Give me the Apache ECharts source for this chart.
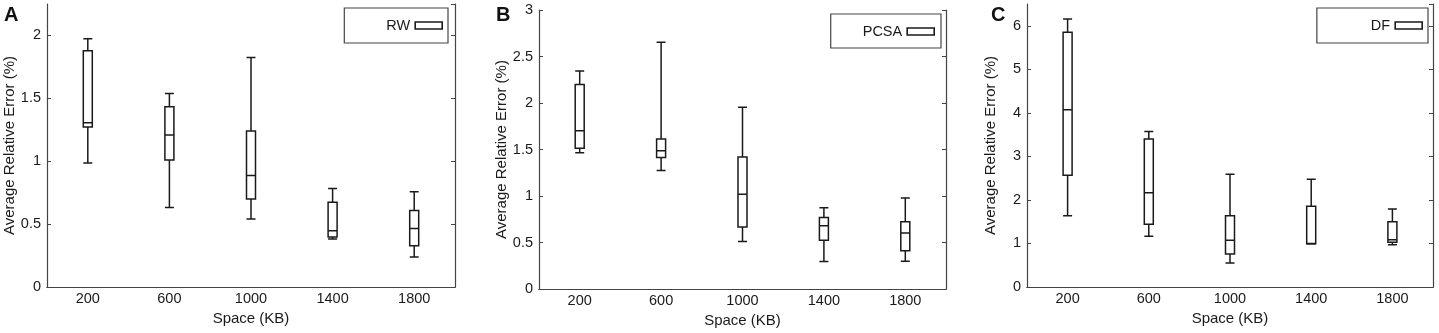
<!DOCTYPE html>
<html>
<head>
<meta charset="utf-8">
<script src="https://cdn.jsdelivr.net/npm/echarts@6/dist/echarts.min.js"></script>
<style>
  html, body { margin: 0; padding: 0; background: #fff; }
  #chart { width: 1439px; height: 333px; }
</style>
</head>
<body>
<div id="chart"></div>
<script>
  // x categories: space (KB)
  const categories = ['200', '600', '1000', '1400', '1800'];

  // box data: [min, Q1, median, Q3, max]
  const rwBoxes = [
    [0.985, 1.272, 1.306, 1.878, 1.973],
    [0.633, 1.009, 1.208, 1.433, 1.539],
    [0.540, 0.699, 0.887, 1.240, 1.825],
    [0.381, 0.397, 0.448, 0.673, 0.784],
    [0.238, 0.328, 0.466, 0.609, 0.758]
  ];
  const pcsaBoxes = [
    [1.465, 1.514, 1.701, 2.199, 2.344],
    [1.274, 1.415, 1.486, 1.613, 2.654],
    [0.512, 0.667, 1.020, 1.419, 1.955],
    [0.296, 0.526, 0.681, 0.770, 0.875],
    [0.300, 0.413, 0.604, 0.724, 0.978]
  ];
  const dfBoxes = [
    [1.638, 2.564, 4.071, 5.854, 6.153],
    [1.163, 1.439, 2.166, 3.398, 3.574],
    [0.551, 0.758, 1.071, 1.638, 2.587],
    [0.990, 0.995, 1.000, 1.852, 2.472],
    [0.972, 1.025, 1.087, 1.500, 1.791]
  ];

  const seriesNames = ['RW', 'PCSA', 'DF'];
  const panelLetters = ['A', 'B', 'C'];
  const yMax = [2.25, 3, 6.5];
  const yStep = [0.5, 0.5, 1];

  const ink = '#1a1a1a';
  const frame = '#444';
  const font = 'Liberation Sans, Arial, sans-serif';

  const grids = [
    {left: 47, top: 4, width: 408, height: 283},
    {left: 539, top: 10, width: 407, height: 283},
    {left: 1027, top: 4, width: 406, height: 283}
  ];

  const legendPos = [
    {right: 991, top: 8, padding: [10, 5, 10, 42]},
    {right: 498, top: 14, padding: [10, 6, 9, 32]},
    {right: 11, top: 8, padding: [10, 5, 10, 54]}
  ];
  const letterPos = [{left: 4, top: 5}, {left: 496, top: 5}, {left: 991, top: 5}];

  const boxes = [rwBoxes, pcsaBoxes, dfBoxes];

  const xAxes = [], yAxes = [], series = [], legends = [], titles = [];

  grids.forEach((g, i) => {
    // bottom x axis
    xAxes.push({
      type: 'category', gridIndex: i, data: categories, position: 'bottom',
      name: 'Space (KB)', nameLocation: 'middle', nameGap: 21,
      nameTextStyle: {color: ink, fontSize: 15, fontFamily: font},
      axisLine: {lineStyle: {color: frame, width: 1.2}},
      axisTick: {inside: true, alignWithLabel: true, length: 4, lineStyle: {color: frame}},
      axisLabel: {color: ink, fontSize: 14.5, fontFamily: font, margin: 4}
    });
    // left y axis
    yAxes.push({
      type: 'value', gridIndex: i, min: 0, max: yMax[i], interval: yStep[i],
      name: 'Average Relative Error (%)', nameLocation: 'middle', nameGap: 29,
      nameTextStyle: {color: ink, fontSize: 15, fontFamily: font},
      axisLine: {show: true, lineStyle: {color: frame, width: 1.2}},
      axisTick: {show: true, inside: true, length: 4, lineStyle: {color: frame}},
      axisLabel: {color: ink, fontSize: 14.5, fontFamily: font, margin: 6, showMaxLabel: yMax[i] % yStep[i] === 0},
      splitLine: {show: false}
    });
    series.push({
      name: seriesNames[i], type: 'boxplot', xAxisIndex: i, yAxisIndex: i,
      data: boxes[i], boxWidth: [9, 9],
      itemStyle: {color: '#fff', borderColor: ink, borderWidth: 1.5},
      emphasis: {disabled: true}
    });
    legends.push({
      data: [seriesNames[i]], right: legendPos[i].right, top: legendPos[i].top,
      padding: legendPos[i].padding, align: 'right', icon: 'rect',
      itemWidth: 27, itemHeight: 7,
      borderColor: frame, borderWidth: 1.2, selectedMode: false,
      itemStyle: {color: '#fff', borderColor: ink, borderWidth: 1.6},
      textStyle: {color: ink, fontSize: 14.5, fontFamily: font}
    });
    titles.push({
      text: panelLetters[i], left: letterPos[i].left, top: letterPos[i].top, padding: 0,
      textStyle: {color: '#111', fontSize: 20, fontWeight: 'bold', fontFamily: font}
    });
  });

  // frame: top and right axes with inside ticks
  grids.forEach((g, i) => {
    xAxes.push({
      type: 'category', gridIndex: i, data: categories, position: 'top',
      axisLine: {lineStyle: {color: frame, width: 1.2}},
      axisTick: {inside: true, alignWithLabel: true, length: 4, lineStyle: {color: frame}},
      axisLabel: {show: false}
    });
    yAxes.push({
      type: 'value', gridIndex: i, min: 0, max: yMax[i], interval: yStep[i], position: 'right',
      axisLine: {show: true, lineStyle: {color: frame, width: 1.2}},
      axisTick: {show: true, inside: true, length: 4, lineStyle: {color: frame}},
      axisLabel: {show: false},
      splitLine: {show: false}
    });
  });

  const chart = echarts.init(document.getElementById('chart'));
  chart.setOption({
    animation: false,
    title: titles,
    legend: legends,
    grid: grids,
    xAxis: xAxes,
    yAxis: yAxes,
    series: series
  });
</script>
</body>
</html>
